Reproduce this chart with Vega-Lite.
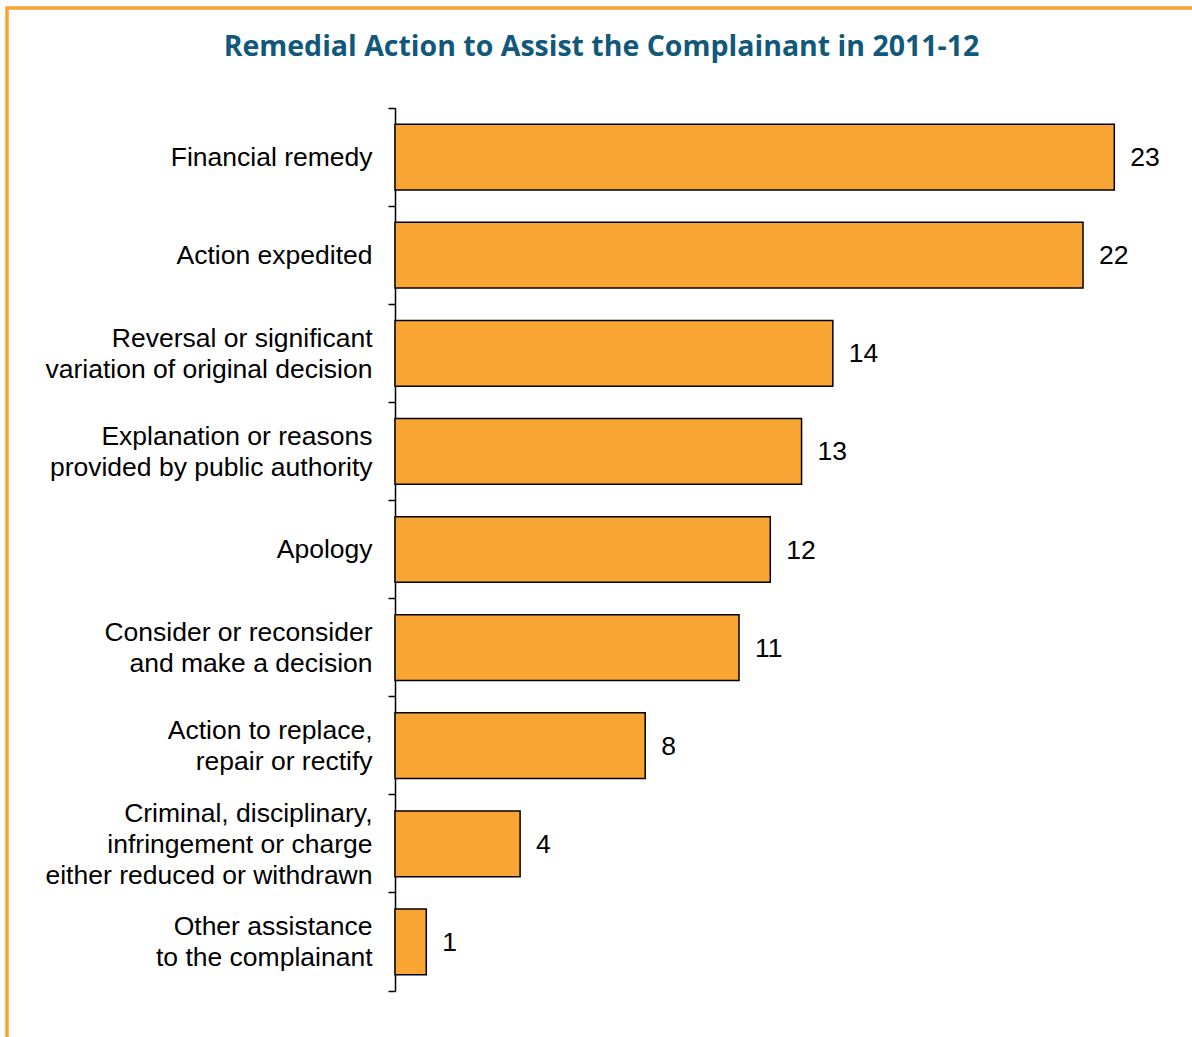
{
  "$schema": "https://vega.github.io/schema/vega-lite/v6.json",
  "width": 1189,
  "height": 1033,
  "autosize": {"type": "none"},
  "padding": {"left": 7, "top": 8, "right": -4, "bottom": -4},
  "background": "white",
  "config": {
    "view": {"stroke": "#F9A533", "strokeWidth": 3.5, "fill": "white"},
    "font": "Liberation Sans"
  },
  "title": {
    "text": "Remedial Action to Assist the Complainant in 2011-12",
    "font": "Open Sans",
    "fontSize": 28.5,
    "fontWeight": "bold",
    "color": "#11597A",
    "anchor": "middle",
    "frame": "group",
    "offset": -66
  },
  "data": {
    "values": [
      {"action": "Financial remedy", "count": 23},
      {"action": "Action expedited", "count": 22},
      {"action": "Reversal or significant\nvariation of original decision", "count": 14},
      {"action": "Explanation or reasons\nprovided by public authority", "count": 13},
      {"action": "Apology", "count": 12},
      {"action": "Consider or reconsider\nand make a decision", "count": 11},
      {"action": "Action to replace,\nrepair or rectify", "count": 8},
      {"action": "Criminal, disciplinary,\ninfringement or charge\neither reduced or withdrawn", "count": 4},
      {"action": "Other assistance\nto the complainant", "count": 1}
    ]
  },
  "encoding": {
    "y": {
      "field": "action",
      "type": "nominal",
      "sort": null,
      "scale": {"range": [100, 983], "paddingInner": 0, "paddingOuter": 0},
      "axis": {
        "title": null,
        "offset": -388,
        "domainColor": "black",
        "domainWidth": 1.5,
        "tickColor": "black",
        "tickWidth": 1.5,
        "tickSize": 7,
        "bandPosition": 1,
        "tickExtra": true,
        "labelFont": "Liberation Sans",
        "labelFontSize": 26.5,
        "labelColor": "black",
        "labelPadding": 16,
        "labelLimit": 0,
        "labelLineHeight": 31,
        "labelExpr": "split(datum.label, '\\n')",
        "labelOffset": {
          "condition": [
            {"test": "length(split(datum.value, '\\n')) == 3", "value": -30},
            {"test": "length(split(datum.value, '\\n')) == 2", "value": -14.5}
          ],
          "value": 0.5
        },
        "grid": false
      }
    }
  },
  "layer": [
    {
      "mark": {"type": "bar", "fill": "#F9A533", "stroke": "black", "strokeWidth": 1.5, "height": {"band": 0.67}},
      "encoding": {
        "x": {
          "field": "count",
          "type": "quantitative",
          "scale": {"domain": [0, 23], "range": [388, 1107.3], "nice": false, "zero": true},
          "axis": null
        }
      }
    },
    {
      "mark": {"type": "text", "align": "left", "baseline": "middle", "dx": 16, "dy": 1, "fontSize": 26.5, "font": "Liberation Sans", "color": "black"},
      "encoding": {
        "x": {"field": "count", "type": "quantitative"},
        "text": {"field": "count", "type": "quantitative"}
      }
    }
  ]
}
